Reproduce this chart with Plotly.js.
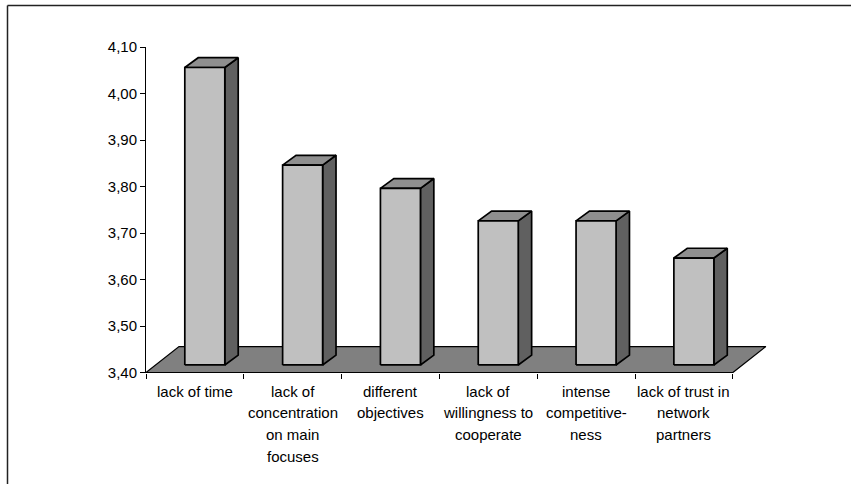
<!DOCTYPE html>
<html>
<head>
<meta charset="utf-8">
<script src="https://cdn.plot.ly/plotly-3.0.1.min.js"></script>
<style>
  html, body { margin: 0; padding: 0; background: #ffffff; overflow: hidden; }
  #chart { width: 851px; height: 484px; }
</style>
</head>
<body>
<div id="chart"></div>
<script>
// Obstacles to network cooperation: mean ratings
const categories = [
  'lack of time',
  'lack of<br>concentration<br>on main<br>focuses',
  'different<br>objectives',
  'lack of<br>willingness to<br>cooperate',
  'intense<br>competitive-<br>ness',
  'lack of trust in<br>network<br>partners'
];
const values = [4.04, 3.83, 3.78, 3.71, 3.71, 3.63];
const yTickVals = [3.40, 3.50, 3.60, 3.70, 3.80, 3.90, 4.00, 4.10];
const baseValue = 3.40;

// ---- layout geometry ----
const W = 851, H = 484;
const margin = { l: 146, r: 79, t: 47, b: 111 };
const xRange = [-0.5, 5.9];          // extra room on the right for the floor's depth
const yRange = [3.399, 4.1005];
const plotW = W - margin.l - margin.r;
const plotH = H - margin.t - margin.b;
const pxX = plotW / (xRange[1] - xRange[0]);   // pixels per category
const pxY = plotH / (yRange[1] - yRange[0]);   // pixels per rating unit

// oblique depth offsets, converted from pixels to data units
const toDX = p => p / pxX;
const toDY = p => p / pxY;
const floorDepth = { x: toDX(33), y: toDY(26) };
const frontShift = { x: toDX(9.9), y: toDY(7.6) };
const barDepth = { x: toDX(13.4), y: toDY(9.8) };
const halfW = toDX(20);

const n = categories.length;
const catIdx = categories.map((_, i) => i);
const firstEdge = -0.5, lastEdge = n - 0.5;
const boundaries = Array.from({ length: n + 1 }, (_, i) => i - 0.5);

// build the three visible faces of each column
const frontFaces = { x: [], y: [] }, topFaces = { x: [], y: [] }, sideFaces = { x: [], y: [] };
function poly(target, pts) {
  pts.forEach(p => { target.x.push(p[0]); target.y.push(p[1]); });
  target.x.push(pts[0][0]); target.y.push(pts[0][1]);
  target.x.push(null); target.y.push(null);
}
values.forEach((v, i) => {
  const xl = catIdx[i] + frontShift.x - halfW;
  const xr = catIdx[i] + frontShift.x + halfW;
  const yb = baseValue + frontShift.y;
  const yt = v + frontShift.y;
  poly(sideFaces, [[xr, yb], [xr + barDepth.x, yb + barDepth.y], [xr + barDepth.x, yt + barDepth.y], [xr, yt]]);
  poly(topFaces, [[xl, yt], [xr, yt], [xr + barDepth.x, yt + barDepth.y], [xl + barDepth.x, yt + barDepth.y]]);
  poly(frontFaces, [[xl, yb], [xr, yb], [xr, yt], [xl, yt]]);
});

const floorFace = { x: [], y: [] };
poly(floorFace, [
  [firstEdge, baseValue], [lastEdge, baseValue],
  [lastEdge + floorDepth.x, baseValue + floorDepth.y],
  [firstEdge + floorDepth.x, baseValue + floorDepth.y]
]);

const edgeColor = '#000000';
function faceTrace(f, fill, w) {
  return {
    type: 'scatter', mode: 'lines', x: f.x, y: f.y,
    fill: 'toself', fillcolor: fill, line: { color: edgeColor, width: w },
    connectgaps: false, hoverinfo: 'skip', showlegend: false, cliponaxis: false
  };
}

const data = [
  faceTrace(floorFace, '#808080', 1.2),
  faceTrace(sideFaces, '#606060', 1.7),
  faceTrace(topFaces, '#8f8f8f', 1.7),
  faceTrace(frontFaces, '#c0c0c0', 1.7)
];

const font = { family: '"Liberation Sans", Arial, sans-serif', size: 15, color: '#000000' };

// category labels: one centred text line per row, 21.7 px apart
const plotBottom = H - margin.b;
const firstLineMid = 391.1, lineStep = 21.7;
const labelNotes = [];
categories.forEach((label, i) => {
  label.split('<br>').forEach((line, k) => {
    labelNotes.push({
      xref: 'x', yref: 'paper', x: catIdx[i],
      y: (plotBottom - (firstLineMid + k * lineStep)) / plotH,
      xanchor: 'center', yanchor: 'middle',
      text: line, showarrow: false, font: font
    });
  });
});

// chart-area frame: only its top and left edges fall inside the page
const frameLeft = (7.5 - margin.l) / plotW;
const frameTop = (plotBottom - 5.5) / plotH;
const frameLine = { color: '#222222', width: 1.5 };

const layout = {
  width: W, height: H,
  margin: margin,
  paper_bgcolor: '#ffffff', plot_bgcolor: '#ffffff',
  separators: ', ',
  font: font,
  showlegend: false,
  xaxis: {
    type: 'linear', range: xRange, fixedrange: true,
    tickmode: 'array', tickvals: catIdx, showticklabels: false,
    ticks: '', showline: false, showgrid: false, zeroline: false,
    minor: { tickmode: 'array', tickvals: boundaries, ticks: 'outside', ticklen: 5,
             tickwidth: 1, tickcolor: '#000000', showgrid: false }
  },
  yaxis: {
    range: yRange, fixedrange: true,
    tickmode: 'array', tickvals: yTickVals, tickformat: '.2f',
    ticks: 'outside', ticklen: 5, tickwidth: 1, tickcolor: '#000000',
    showline: true, linecolor: '#000000', linewidth: 1,
    showgrid: false, zeroline: false, tickfont: font
  },
  annotations: labelNotes,
  shapes: [
    { type: 'line', xref: 'paper', yref: 'paper', layer: 'below',
      x0: frameLeft, x1: (W - margin.l) / plotW, y0: frameTop, y1: frameTop, line: frameLine },
    { type: 'line', xref: 'paper', yref: 'paper', layer: 'below',
      x0: frameLeft, x1: frameLeft, y0: frameTop, y1: -margin.b / plotH, line: frameLine }
  ]
};

Plotly.newPlot('chart', data, layout, { displayModeBar: false, staticPlot: true });
</script>
</body>
</html>
